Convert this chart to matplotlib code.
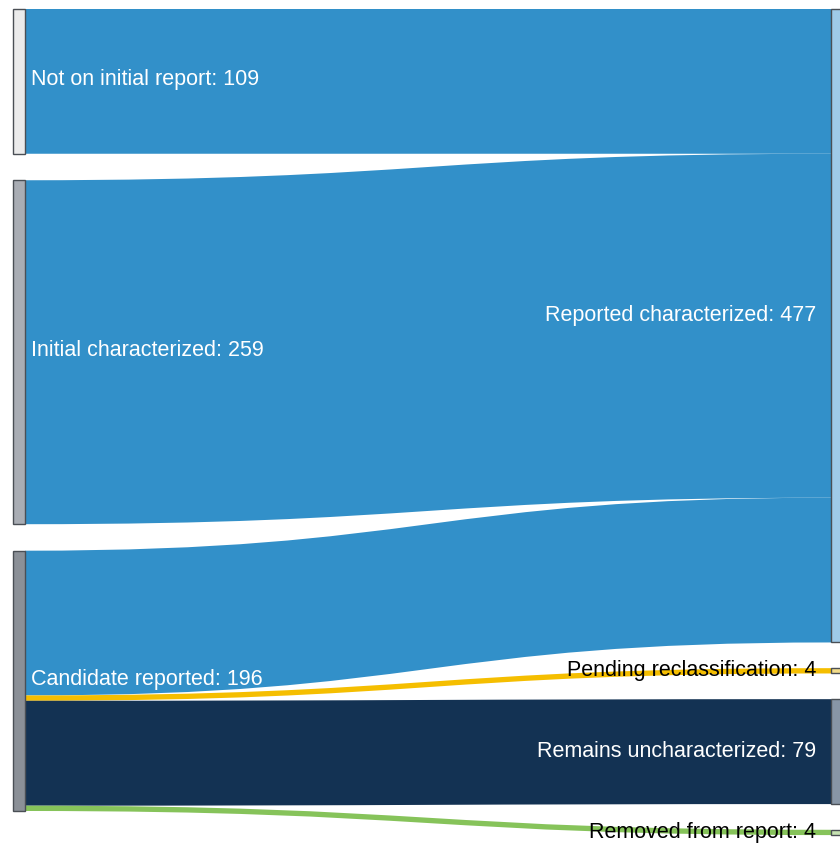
import numpy as np
import matplotlib.pyplot as plt
from matplotlib.path import Path
from matplotlib.patches import PathPatch, Rectangle

# Nodes
left_names = ["Not on initial report", "Initial characterized", "Candidate reported"]
left_values = [109, 259, 196]
left_colors = ["#ebebeb", "#a9adb4", "#8b9097"]

right_names = ["Reported characterized", "Pending reclassification",
               "Remains uncharacterized", "Removed from report"]
right_values = [477, 4, 79, 4]
right_colors = ["#9fcae8", "#f3dc8a", "#8896a6", "#c6e2b2"]
right_text = ["white", "black", "white", "black"]

# Links (source index, target index, value)
link_src = [0, 1, 2, 2, 2, 2]
link_tgt = [0, 0, 1, 2, 3, 0]
link_val = [109, 259, 4, 79, 4, 109]
link_colors = ["#3290c9", "#3290c9", "#f5be00", "#133253", "#86c35a", "#3290c9"]

# order of links as they leave candidate: reported, pending, remains, removed
order = [0, 1, 5, 2, 3, 4]

W, H = 840, 845
k = 1.328          # px per unit
top = 10
pad_l, pad_r = 26.5, 25.7
xl0, xl1 = 13, 25
xr0, xr1 = 831, 843

fig = plt.figure(figsize=(W / 100, H / 100), dpi=100)
ax = fig.add_axes([0, 0, 1, 1])
ax.set_xlim(0, W)
ax.set_ylim(H, 0)
ax.axis("off")

def positions(values, pad):
    ys = []
    y = top
    for v in values:
        ys.append(y)
        y += v * k + pad
    return ys

left_y = positions(left_values, pad_l)
right_y = positions(right_values, pad_r)

# running offsets inside nodes
l_off = list(left_y)
r_off = list(right_y)

xm = (xl1 + xr0) / 2
for i in order:
    s, t, v = link_src[i], link_tgt[i], link_val[i]
    h = v * k
    y0a, y0b = l_off[s], l_off[s] + h
    y1a, y1b = r_off[t], r_off[t] + h
    l_off[s] += h
    r_off[t] += h
    verts = [(xl1, y0a), (xm, y0a), (xm, y1a), (xr0, y1a),
             (xr0, y1b), (xm, y1b), (xm, y0b), (xl1, y0b), (xl1, y0a)]
    codes = [Path.MOVETO, Path.CURVE4, Path.CURVE4, Path.CURVE4,
             Path.LINETO, Path.CURVE4, Path.CURVE4, Path.CURVE4, Path.CLOSEPOLY]
    ax.add_patch(PathPatch(Path(verts, codes), facecolor=link_colors[i],
                           edgecolor="none", lw=0))

for name, v, y, c in zip(left_names, left_values, left_y, left_colors):
    ax.add_patch(Rectangle((xl0, y), xl1 - xl0, v * k, facecolor=c,
                           edgecolor="#4a4f55", lw=1))
    ax.text(xl1 + 6, y + v * k / 2 - 2.5, f"{name}: {v}", color="white",
            fontsize=15.5, family="Liberation Sans", ha="left", va="center")

label_dy = [-10, 0, 0, 0]
for name, v, y, c, tc, dy in zip(right_names, right_values, right_y,
                                 right_colors, right_text, label_dy):
    ax.add_patch(Rectangle((xr0, y), xr1 - xr0, max(v * k, 1), facecolor=c,
                           edgecolor="#4a4f55", lw=1))
    ax.text(xr0 - 15, y + v * k / 2 - 1 + dy, f"{name}: {v}", color=tc,
            fontsize=15.5, family="Liberation Sans", ha="right", va="center")

fig.savefig("out.png", dpi=100)
